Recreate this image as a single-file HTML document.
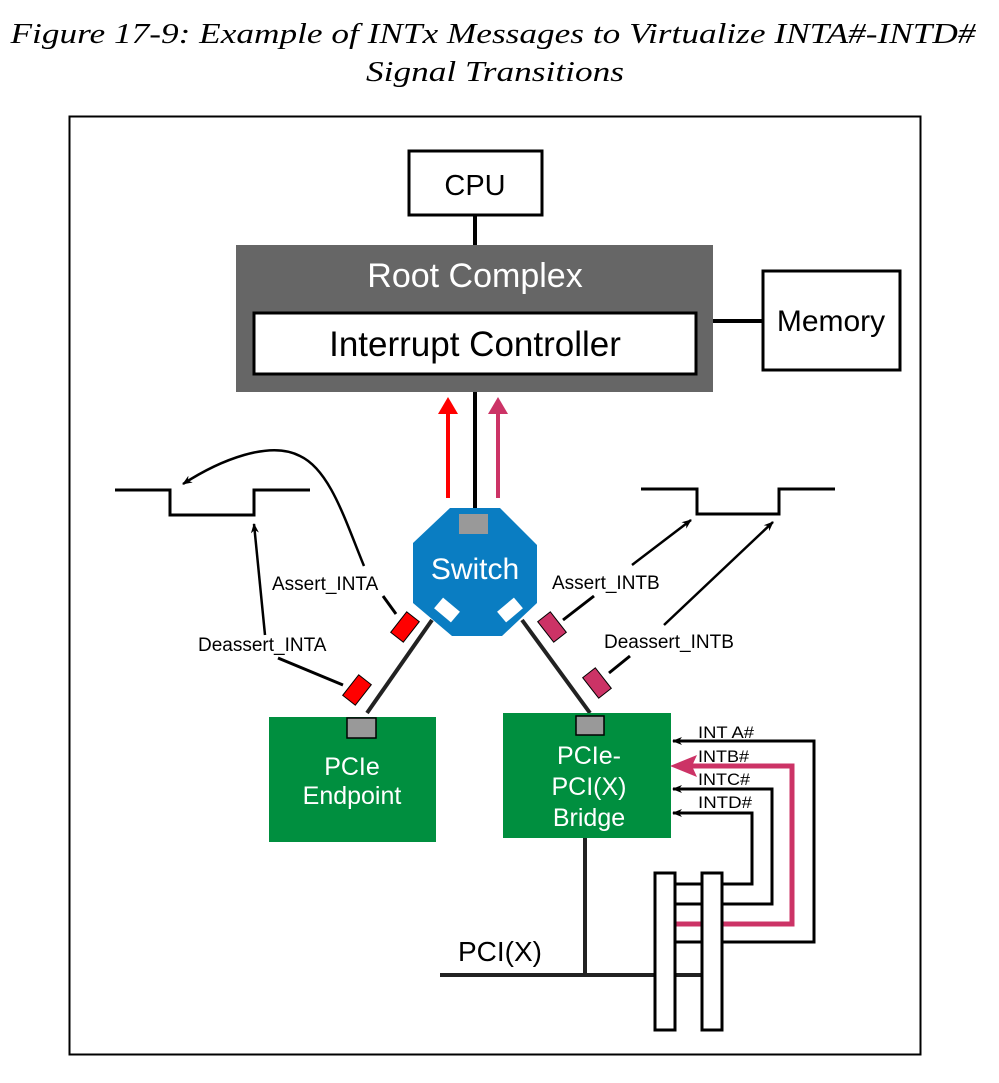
<!DOCTYPE html>
<html><head><meta charset="utf-8"><style>
html,body{margin:0;padding:0;background:#fff;}
svg{display:block;}
.s{font-family:"Liberation Sans",sans-serif;}
.t{font-family:"Liberation Serif",serif;font-style:italic;}
</style></head><body>
<svg width="999" height="1083" viewBox="0 0 999 1083" xmlns="http://www.w3.org/2000/svg">
<defs>
<marker id="ab" markerWidth="10" markerHeight="8" refX="9" refY="4" orient="auto" markerUnits="userSpaceOnUse"><path d="M0,0 L10,4 L0,8 L3,4 z" fill="#000"/></marker>
</defs>
<text class="t" x="493" y="43" font-size="29" text-anchor="middle" textLength="965" lengthAdjust="spacingAndGlyphs">Figure 17-9: Example of INTx Messages to Virtualize INTA#-INTD#</text>
<text class="t" x="495" y="81" font-size="29" text-anchor="middle" textLength="258" lengthAdjust="spacingAndGlyphs">Signal Transitions</text>
<rect x="69.5" y="116.5" width="851" height="938" fill="none" stroke="#000" stroke-width="2"/>
<g class="s">
<rect x="409" y="151" width="133" height="64" fill="#fff" stroke="#000" stroke-width="3"/>
<text x="475" y="195" font-size="29" text-anchor="middle">CPU</text>
<line x1="475" y1="215" x2="475" y2="245" stroke="#000" stroke-width="4"/>
<rect x="236" y="245" width="477" height="147" fill="#666"/>
<text x="475" y="287" font-size="34" fill="#fff" text-anchor="middle">Root Complex</text>
<rect x="254" y="313" width="442" height="61" fill="#fff" stroke="#000" stroke-width="3"/>
<text x="475" y="356" font-size="35" text-anchor="middle">Interrupt Controller</text>
<line x1="713" y1="321" x2="763" y2="321" stroke="#000" stroke-width="4"/>
<rect x="763" y="271" width="137" height="99" fill="#fff" stroke="#000" stroke-width="3"/>
<text x="831" y="331" font-size="30" text-anchor="middle">Memory</text>

<line x1="448" y1="498" x2="448" y2="412" stroke="#f00" stroke-width="4"/>
<polygon points="438,414 458,414 448,397" fill="#f00"/>
<line x1="498" y1="498" x2="498" y2="412" stroke="#cc3366" stroke-width="4"/>
<polygon points="488,414 508,414 498,397" fill="#cc3366"/>
<line x1="475" y1="392" x2="475" y2="510" stroke="#000" stroke-width="4"/>

<polygon points="450,508 500,508 537,545 537,603 502,636 452,636 413,603 413,543" fill="#0a7dc2"/>
<rect x="459" y="514" width="29" height="20" fill="#999"/>
<text x="475" y="579" font-size="30" fill="#fff" text-anchor="middle">Switch</text>
<rect x="436" y="603" width="22" height="14" fill="#fff" transform="rotate(40 447 610)"/>
<rect x="499" y="603" width="22" height="14" fill="#fff" transform="rotate(-40 510 610)"/>

<line x1="432" y1="620" x2="367" y2="713" stroke="#222" stroke-width="4"/>
<line x1="522" y1="620" x2="590" y2="713" stroke="#222" stroke-width="4"/>

<polyline points="115,490 170,490 170,515 254,515 254,490 310,490" fill="none" stroke="#000" stroke-width="3"/>
<path d="M364,566 C345,520 330,470 300,456 C270,440 220,460 183,484" fill="none" stroke="#000" stroke-width="2.5" marker-end="url(#ab)"/>
<line x1="265" y1="635" x2="254" y2="524" stroke="#000" stroke-width="2.5" marker-end="url(#ab)"/>
<text x="272" y="590" font-size="19">Assert_INTA</text>
<text x="198" y="651" font-size="19">Deassert_INTA</text>
<line x1="383" y1="596" x2="396" y2="614" stroke="#000" stroke-width="3"/>
<line x1="278" y1="658" x2="343" y2="685" stroke="#000" stroke-width="3"/>
<rect x="392" y="619" width="26" height="16" fill="#f00" stroke="#000" stroke-width="1" transform="rotate(-52 405 627)"/>
<rect x="344" y="682" width="26" height="16" fill="#f00" stroke="#000" stroke-width="1" transform="rotate(-52 357 690)"/>

<polyline points="641,489 697,489 697,514 779,514 779,489 835,489" fill="none" stroke="#000" stroke-width="3"/>
<line x1="632" y1="565" x2="691" y2="520" stroke="#000" stroke-width="2.5" marker-end="url(#ab)"/>
<line x1="664" y1="625" x2="773" y2="522" stroke="#000" stroke-width="2.5" marker-end="url(#ab)"/>
<text x="552" y="589" font-size="19">Assert_INTB</text>
<text x="604" y="648" font-size="19">Deassert_INTB</text>
<line x1="563" y1="620" x2="594" y2="596" stroke="#000" stroke-width="3"/>
<line x1="609" y1="673" x2="630" y2="656" stroke="#000" stroke-width="3"/>
<rect x="539" y="619" width="26" height="16" fill="#cc3366" stroke="#000" stroke-width="1" transform="rotate(52 552 627)"/>
<rect x="584" y="675" width="26" height="16" fill="#cc3366" stroke="#000" stroke-width="1" transform="rotate(52 597 683)"/>

<rect x="269" y="717" width="167" height="125" fill="#008f3f"/>
<rect x="347" y="718" width="29" height="20" fill="#999" stroke="#000" stroke-width="1.5"/>
<text x="352" y="775" font-size="25" fill="#fff" text-anchor="middle">PCIe</text>
<text x="352" y="804" font-size="25" fill="#fff" text-anchor="middle">Endpoint</text>

<rect x="503" y="713" width="168" height="125" fill="#008f3f"/>
<rect x="576" y="716" width="28" height="19" fill="#999" stroke="#000" stroke-width="1.5"/>
<text x="589" y="764" font-size="25" fill="#fff" text-anchor="middle">PCIe-</text>
<text x="589" y="795" font-size="25" fill="#fff" text-anchor="middle">PCI(X)</text>
<text x="589" y="826" font-size="25" fill="#fff" text-anchor="middle">Bridge</text>

<line x1="585" y1="838" x2="585" y2="975" stroke="#222" stroke-width="4"/>
<line x1="440" y1="975" x2="703" y2="975" stroke="#222" stroke-width="4"/>
<text x="458" y="961" font-size="28">PCI(X)</text>

<polyline points="673,942 814,942 814,741 673,741" fill="none" stroke="#000" stroke-width="3" marker-end="url(#ab)"/>
<polyline points="673,904 772,904 772,789 673,789" fill="none" stroke="#000" stroke-width="3" marker-end="url(#ab)"/>
<polyline points="673,884 752,884 752,813 673,813" fill="none" stroke="#000" stroke-width="3" marker-end="url(#ab)"/>
<polyline points="673,924 792,924 792,766 690,766" fill="none" stroke="#cc3366" stroke-width="5"/>
<polygon points="670,766 697,755 692,766 697,777" fill="#cc3366"/>
<text x="698" y="738" font-size="17" textLength="56" lengthAdjust="spacingAndGlyphs">INT A#</text>
<text x="698" y="762" font-size="17" textLength="51" lengthAdjust="spacingAndGlyphs">INTB#</text>
<text x="698" y="785" font-size="17" textLength="52" lengthAdjust="spacingAndGlyphs">INTC#</text>
<text x="698" y="808" font-size="17" textLength="54" lengthAdjust="spacingAndGlyphs">INTD#</text>

<rect x="655" y="873" width="20" height="157" fill="#fff" stroke="#000" stroke-width="3"/>
<rect x="702" y="873" width="20" height="157" fill="#fff" stroke="#000" stroke-width="3"/>
</g>
</svg>
</body></html>
